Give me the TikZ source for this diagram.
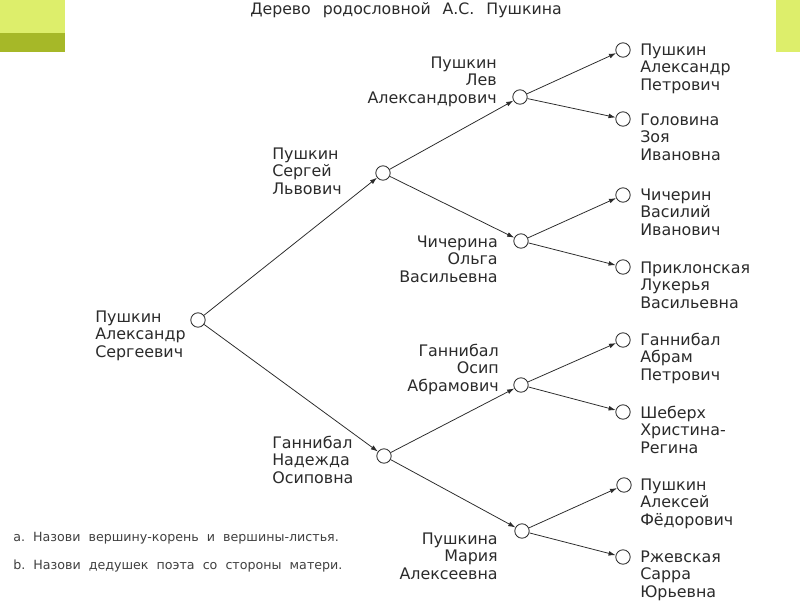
\documentclass[tikz,border=0pt]{standalone}
\usepackage{fontspec}
\setmainfont{DejaVu Sans}
\usetikzlibrary{arrows.meta}

\definecolor{lightgreen}{HTML}{DDEE6B}
\definecolor{olivegreen}{HTML}{A6B828}
\definecolor{inkgray}{HTML}{2B2B2B}

\begin{document}
\begin{tikzpicture}[x=0.25mm,y=-0.25mm,
    vert/.style={circle,draw=inkgray,fill=white,line width=0.6pt,inner sep=0pt,minimum size=3.6mm},
    edge/.style={draw=inkgray,line width=0.55pt,-{Latex[length=5pt,width=3.4pt]}},
    person/.style={font=\fontsize{11.3}{12.1}\selectfont,text=inkgray,inner sep=0pt},
    task/.style={font=\fontsize{9}{12}\selectfont,text=inkgray!90,inner sep=0pt,anchor=base west}]
    \useasboundingbox (0,0) rectangle (800,600) ;
    \fill[white] (0,0) rectangle (800,600) ;
    \fill[lightgreen] (0,0) rectangle (65,33) ;
    \fill[olivegreen] (0,33) rectangle (65,52) ;
    \fill[lightgreen] (776,0) rectangle (800,52) ;

    \node (title) at (406,14) [anchor=base,font=\fontsize{11.2}{12}\selectfont,text=inkgray] {Дерево\hspace{8.5pt}родословной\hspace{8.5pt}А.С.\hspace{8.5pt}Пушкина} ;

    \node (root) at (198,320) [vert] {} ;
    \node (sergej) at (383,173) [vert] {} ;
    \node (nadezhda) at (384,456) [vert] {} ;
    \node (lev) at (520,97) [vert] {} ;
    \node (olga) at (521,241) [vert] {} ;
    \node (osip) at (521,385) [vert] {} ;
    \node (maria) at (522,531) [vert] {} ;

    \node (aleksandr) at (623,50) [vert] {} ;
    \node (zoja) at (623,119) [vert] {} ;
    \node (vasilij) at (623,195) [vert] {} ;
    \node (lukerja) at (623,267) [vert] {} ;
    \node (abram) at (623,340) [vert] {} ;
    \node (khristina) at (623,412) [vert] {} ;
    \node (aleksej) at (624,485) [vert] {} ;
    \node (sarra) at (623,557) [vert] {} ;

    \draw[edge] (root) -- (sergej) ; \draw[edge] (root) -- (nadezhda) ;
    \draw[edge] (sergej) -- (lev) ; \draw[edge] (sergej) -- (olga) ;
    \draw[edge] (nadezhda) -- (osip) ; \draw[edge] (nadezhda) -- (maria) ;
    \draw[edge] (lev) -- (aleksandr) ; \draw[edge] (lev) -- (zoja) ;
    \draw[edge] (olga) -- (vasilij) ; \draw[edge] (olga) -- (lukerja) ;
    \draw[edge] (osip) -- (abram) ; \draw[edge] (osip) -- (khristina) ;
    \draw[edge] (maria) -- (aleksej) ; \draw[edge] (maria) -- (sarra) ;

    \node (t-root) at (95,357) [person,align=left,anchor=base west] {Пушкин\\Александр\\Сергеевич} ;
    \node (t-sergej) at (272,194) [person,align=left,anchor=base west] {Пушкин\\Сергей\\Львович} ;
    \node (t-nadezhda) at (272,483) [person,align=left,anchor=base west] {Ганнибал\\Надежда\\Осиповна} ;
    \node (t-lev) at (497,103) [person,align=right,anchor=base east] {Пушкин\\Лев\\Александрович} ;
    \node (t-olga) at (498,282) [person,align=right,anchor=base east] {Чичерина\\Ольга\\Васильевна} ;
    \node (t-osip) at (499,391) [person,align=right,anchor=base east] {Ганнибал\\Осип\\Абрамович} ;
    \node (t-maria) at (498,579) [person,align=right,anchor=base east] {Пушкина\\Мария\\Алексеевна} ;

    \node (t-aleksandr) at (640,90) [person,align=left,anchor=base west] {Пушкин\\Александр\\Петрович} ;
    \node (t-zoja) at (640,160) [person,align=left,anchor=base west] {Головина\\Зоя\\Ивановна} ;
    \node (t-vasilij) at (640,235) [person,align=left,anchor=base west] {Чичерин\\Василий\\Иванович} ;
    \node (t-lukerja) at (640,308) [person,align=left,anchor=base west] {Приклонская\\Лукерья\\Васильевна} ;
    \node (t-abram) at (640,380) [person,align=left,anchor=base west] {Ганнибал\\Абрам\\Петрович} ;
    \node (t-khristina) at (640,453) [person,align=left,anchor=base west] {Шеберх\\Христина-\\Регина} ;
    \node (t-aleksej) at (640,525) [person,align=left,anchor=base west] {Пушкин\\Алексей\\Фёдорович} ;
    \node (t-sarra) at (640,597) [person,align=left,anchor=base west] {Ржевская\\Сарра\\Юрьевна} ;

    \node (qa) at (13,541) [task] {a.\ \ Назови\ \ вершину-корень\ \ и\ \ вершины-листья.} ;
    \node (qb) at (13,569) [task] {b.\ \ Назови\ \ дедушек\ \ поэта\ \ со\ \ стороны\ \ матери.} ;
\end{tikzpicture}
\end{document}
